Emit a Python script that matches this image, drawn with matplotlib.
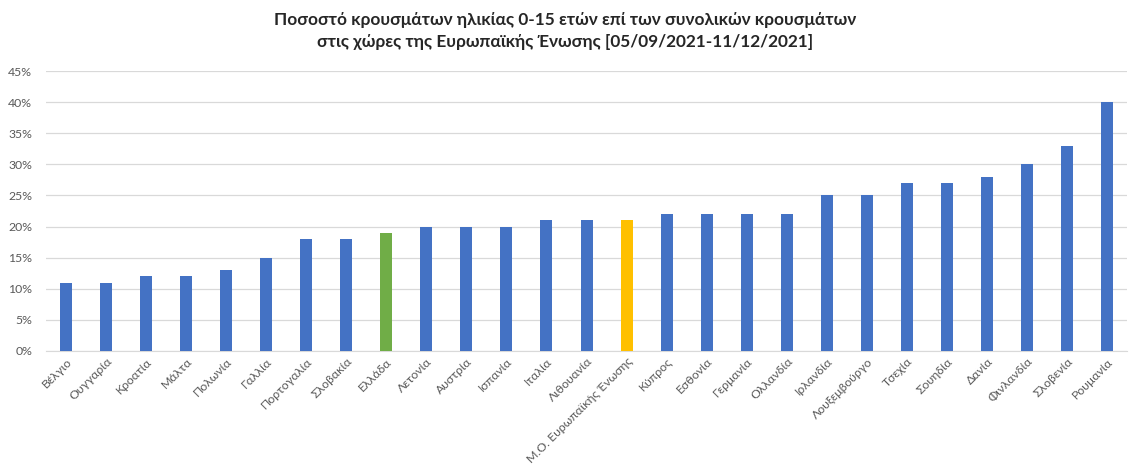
import matplotlib.pyplot as plt
from matplotlib.ticker import PercentFormatter

plt.rcParams['font.family'] = ['Lato', 'DejaVu Sans']

countries = ["Βέλγιο", "Ουγγαρία", "Κροατία", "Μάλτα", "Πολωνία", "Γαλλία",
             "Πορτογαλία", "Σλοβακία", "Ελλάδα", "Λετονία", "Αυστρία", "Ισπανία",
             "Ιταλία", "Λιθουανία", "Μ.Ο. Ευρωπαϊκής Ένωσης", "Κύπρος", "Εσθονία",
             "Γερμανία", "Ολλανδία", "Ιρλανδία", "Λουξεμβούργο", "Τσεχία",
             "Σουηδία", "Δανία", "Φινλανδία", "Σλοβενία", "Ρουμανία"]
share = [11, 11, 12, 12, 13, 15, 18, 18, 19, 20, 20, 20, 21, 21, 21,
         22, 22, 22, 22, 25, 25, 27, 27, 28, 30, 33, 40]

BLUE = "#4472C4"
colors = []
for c in countries:
    if c == "Ελλάδα":
        colors.append("#70AD47")
    elif c.startswith("Μ.Ο."):
        colors.append("#FFC000")
    else:
        colors.append(BLUE)

fig = plt.figure(figsize=(11.35, 4.71), dpi=100)
ax = fig.add_axes([0.0405, 0.2548, 0.9525, 0.5944])

x = range(len(countries))
ax.bar(x, share, width=0.3, color=colors, zorder=3)

ax.set_xlim(-0.5, len(countries) - 0.5)
ax.set_ylim(0, 45)
ax.set_yticks(range(0, 46, 5))
ax.yaxis.set_major_formatter(PercentFormatter(decimals=0))
ax.grid(axis="y", color="#D9D9D9", linewidth=0.9, zorder=0)
for s in ["top", "right", "left"]:
    ax.spines[s].set_visible(False)
ax.spines["bottom"].set_color("#D9D9D9")
ax.tick_params(axis="both", length=0, labelsize=8.8, colors="#595959")
ax.tick_params(axis="y", pad=10)

ax.set_xticks(list(x))
ax.set_xticklabels(countries, rotation=45, ha="right", rotation_mode="anchor")

fig.text(0.498, 0.975, "Ποσοστό κρουσμάτων ηλικίας 0-15 ετών επί των συνολικών κρουσμάτων\n"
         "στις χώρες της Ευρωπαϊκής Ένωσης [05/09/2021-11/12/2021]",
         ha="center", va="top", fontsize=12.4, fontweight="bold", color="#262626",
         linespacing=1.45)

fig.savefig("out.png", dpi=100)
